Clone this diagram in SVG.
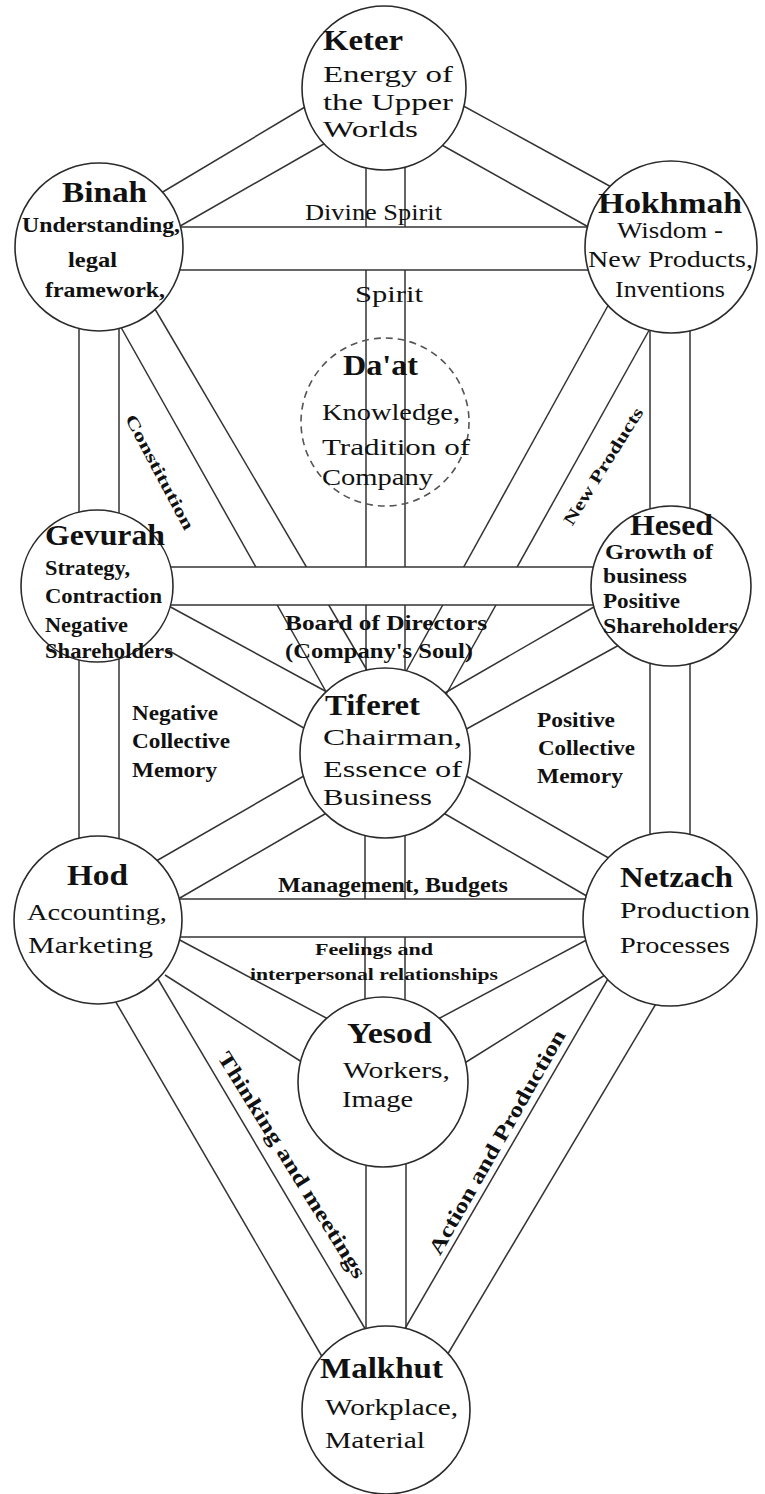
<svg xmlns="http://www.w3.org/2000/svg" width="765" height="1494" viewBox="0 0 765 1494">
<style>
.ln line{stroke:#333;stroke-width:1.5;fill:none}
.chl{stroke:#444;stroke-width:2.2}
.node{fill:#fff;stroke:#2b2b2b;stroke-width:1.6}
.dash{fill:none;stroke:#555;stroke-width:1.6;stroke-dasharray:7 5}
text{font-family:"Liberation Serif","Times New Roman",serif;fill:#111}
.t{font-weight:bold;font-size:30px}
.b{font-size:24px}
.bb{font-size:21px;font-weight:bold}
.s{font-size:17px;font-weight:bold}
.r{font-size:21px;font-weight:bold}
</style>
<rect width="765" height="1494" fill="#fff"/>
<g id="connectors" class="ln">
  <line x1="366" y1="160" x2="366" y2="680"/>
  <line x1="405" y1="160" x2="405" y2="680"/>
  <line x1="365" y1="830" x2="365" y2="1010"/>
  <line x1="405" y1="830" x2="405" y2="1010"/>
  <line x1="366" y1="1160" x2="366" y2="1335"/>
  <line x1="406" y1="1160" x2="406" y2="1335"/>
  <line x1="79" y1="320" x2="79" y2="850"/>
  <line x1="119" y1="320" x2="119" y2="850"/>
  <line x1="650" y1="320" x2="650" y2="850"/>
  <line x1="690" y1="320" x2="690" y2="850"/>
  <line x1="156" y1="196" x2="310" y2="104"/>
  <line x1="175" y1="229" x2="329" y2="141"/>
  <line x1="458" y1="103" x2="615" y2="189"/>
  <line x1="440" y1="144" x2="592" y2="229"/>
  <line x1="118" y1="322" x2="329" y2="697"/>
  <line x1="152" y1="304" x2="371" y2="677"/>
  <line x1="652" y1="325" x2="443" y2="700"/>
  <line x1="610" y1="302" x2="403" y2="677"/>
  <line x1="165" y1="604" x2="327" y2="692"/>
  <line x1="166" y1="649" x2="309" y2="731"/>
  <line x1="599" y1="604" x2="443" y2="694"/>
  <line x1="621" y1="644" x2="461" y2="732"/>
  <line x1="151" y1="864" x2="309" y2="773"/>
  <line x1="173" y1="902" x2="330" y2="811"/>
  <line x1="619" y1="864" x2="461" y2="773"/>
  <line x1="597" y1="902" x2="440" y2="811"/>
  <line x1="176" y1="938" x2="330" y2="1020"/>
  <line x1="165" y1="975" x2="305" y2="1064"/>
  <line x1="594" y1="936" x2="438" y2="1019"/>
  <line x1="605" y1="975" x2="463" y2="1064"/>
  <line x1="110" y1="992" x2="324" y2="1360"/>
  <line x1="155" y1="974" x2="367" y2="1332"/>
  <line x1="660" y1="997" x2="446" y2="1357"/>
  <line x1="612" y1="972" x2="403" y2="1332"/>
  <rect x="99" y="227" width="572" height="43" fill="#fff" stroke="none"/>
  <line class="chl" x1="99" y1="227" x2="671" y2="227"/>
  <line class="chl" x1="99" y1="270" x2="671" y2="270"/>
  <rect x="97" y="567" width="574" height="38" fill="#fff" stroke="none"/>
  <line class="chl" x1="97" y1="567" x2="671" y2="567"/>
  <line class="chl" x1="97" y1="605" x2="671" y2="605"/>
  <rect x="98" y="899" width="572" height="38" fill="#fff" stroke="none"/>
  <line class="chl" x1="98" y1="899" x2="670" y2="899"/>
  <line class="chl" x1="98" y1="937" x2="670" y2="937"/>
</g>
<g id="path-labels">
  <text class="b" x="305" y="220" textLength="137" lengthAdjust="spacingAndGlyphs">Divine Spirit</text>
  <text class="b" x="355" y="302" textLength="68" lengthAdjust="spacingAndGlyphs">Spirit</text>
  <text class="s" font-size="18" text-anchor="middle" transform="translate(160,472) rotate(62)" y="6" textLength="128" lengthAdjust="spacingAndGlyphs">Constitution</text>
  <text class="s" font-size="18" text-anchor="middle" transform="translate(603,466) rotate(-58)" y="6" textLength="135" lengthAdjust="spacingAndGlyphs">New Products</text>
  <text class="bb" x="285" y="630" textLength="202" lengthAdjust="spacingAndGlyphs">Board of Directors</text>
  <text class="bb" x="285" y="658" textLength="188" lengthAdjust="spacingAndGlyphs">(Company's Soul)</text>
  <text class="bb" x="132" y="720" textLength="86" lengthAdjust="spacingAndGlyphs">Negative</text>
  <text class="bb" x="132" y="748" textLength="98" lengthAdjust="spacingAndGlyphs">Collective</text>
  <text class="bb" x="132" y="777" textLength="85" lengthAdjust="spacingAndGlyphs">Memory</text>
  <text class="bb" x="537" y="727" textLength="78" lengthAdjust="spacingAndGlyphs">Positive</text>
  <text class="bb" x="538" y="755" textLength="97" lengthAdjust="spacingAndGlyphs">Collective</text>
  <text class="bb" x="537" y="783" textLength="86" lengthAdjust="spacingAndGlyphs">Memory</text>
  <text class="bb" x="278" y="892" textLength="230" lengthAdjust="spacingAndGlyphs">Management, Budgets</text>
  <text class="s" x="315" y="955" textLength="118" lengthAdjust="spacingAndGlyphs">Feelings and</text>
  <text class="s" x="250" y="980" textLength="248" lengthAdjust="spacingAndGlyphs">interpersonal relationships</text>
  <text class="r" text-anchor="middle" transform="translate(292,1165) rotate(58.2)" y="7" textLength="262" lengthAdjust="spacingAndGlyphs">Thinking and meetings</text>
  <text class="r" text-anchor="middle" transform="translate(497,1142) rotate(-60.3)" y="7" textLength="255" lengthAdjust="spacingAndGlyphs">Action and Production</text>
</g>
<g id="keter">
  <circle class="node" cx="384" cy="88" r="82"/>
  <text class="t" x="323" y="50" textLength="80" lengthAdjust="spacingAndGlyphs">Keter</text>
  <text class="b" x="323" y="82" textLength="130" lengthAdjust="spacingAndGlyphs">Energy of</text>
  <text class="b" x="323" y="110" textLength="130" lengthAdjust="spacingAndGlyphs">the Upper</text>
  <text class="b" x="323" y="137" textLength="95" lengthAdjust="spacingAndGlyphs">Worlds</text>
</g>
<g id="binah">
  <circle class="node" cx="99" cy="247" r="84"/>
  <text class="t" x="62" y="202" textLength="85" lengthAdjust="spacingAndGlyphs">Binah</text>
  <text class="bb" x="22" y="232" textLength="158" lengthAdjust="spacingAndGlyphs">Understanding,</text>
  <text class="bb" x="68" y="267" textLength="49" lengthAdjust="spacingAndGlyphs">legal</text>
  <text class="bb" x="45" y="297" textLength="120" lengthAdjust="spacingAndGlyphs">framework,</text>
</g>
<g id="hokhmah">
  <circle class="node" cx="671" cy="247" r="86"/>
  <text class="t" x="598" y="213" textLength="144" lengthAdjust="spacingAndGlyphs">Hokhmah</text>
  <text class="b" x="617" y="238" textLength="106" lengthAdjust="spacingAndGlyphs">Wisdom -</text>
  <text class="b" x="588" y="267" textLength="165" lengthAdjust="spacingAndGlyphs">New Products,</text>
  <text class="b" x="615" y="297" textLength="110" lengthAdjust="spacingAndGlyphs">Inventions</text>
</g>
<g id="daat">
  <circle class="dash" cx="385" cy="422" r="84"/>
  <text class="t" font-size="28" x="343" y="375" textLength="75" lengthAdjust="spacingAndGlyphs">Da'at</text>
  <text class="b" x="322" y="420" textLength="138" lengthAdjust="spacingAndGlyphs">Knowledge,</text>
  <text class="b" x="322" y="455" textLength="148" lengthAdjust="spacingAndGlyphs">Tradition  of</text>
  <text class="b" x="322" y="485" textLength="111" lengthAdjust="spacingAndGlyphs">Company</text>
</g>
<g id="gevurah">
  <circle class="node" cx="97" cy="586" r="76"/>
  <text class="t" x="45" y="545" textLength="120" lengthAdjust="spacingAndGlyphs">Gevurah</text>
  <text class="bb" x="45" y="575" textLength="85" lengthAdjust="spacingAndGlyphs">Strategy,</text>
  <text class="bb" x="45" y="603" textLength="117" lengthAdjust="spacingAndGlyphs">Contraction</text>
  <text class="bb" x="45" y="632" textLength="83" lengthAdjust="spacingAndGlyphs">Negative</text>
  <text class="bb" x="45" y="658" textLength="128" lengthAdjust="spacingAndGlyphs">Shareholders</text>
</g>
<g id="hesed">
  <circle class="node" cx="671" cy="586" r="80"/>
  <text class="t" font-size="27" x="630" y="535" textLength="83" lengthAdjust="spacingAndGlyphs">Hesed</text>
  <text class="bb" font-size="19" x="605" y="559" textLength="108" lengthAdjust="spacingAndGlyphs">Growth  of</text>
  <text class="bb" x="603" y="583" textLength="84" lengthAdjust="spacingAndGlyphs">business</text>
  <text class="bb" x="603" y="608" textLength="77" lengthAdjust="spacingAndGlyphs">Positive</text>
  <text class="bb" x="603" y="633" textLength="135" lengthAdjust="spacingAndGlyphs">Shareholders</text>
</g>
<g id="tiferet">
  <circle class="node" cx="385" cy="753" r="85"/>
  <text class="t" x="325" y="715" textLength="95" lengthAdjust="spacingAndGlyphs">Tiferet</text>
  <text class="b" x="323" y="745" textLength="139" lengthAdjust="spacingAndGlyphs">Chairman,</text>
  <text class="b" x="323" y="777" textLength="139" lengthAdjust="spacingAndGlyphs">Essence of</text>
  <text class="b" x="323" y="805" textLength="109" lengthAdjust="spacingAndGlyphs">Business</text>
</g>
<g id="hod">
  <circle class="node" cx="98" cy="920" r="84"/>
  <text class="t" x="67" y="885" textLength="61" lengthAdjust="spacingAndGlyphs">Hod</text>
  <text class="b" x="27" y="920" textLength="140" lengthAdjust="spacingAndGlyphs">Accounting,</text>
  <text class="b" x="28" y="953" textLength="125" lengthAdjust="spacingAndGlyphs">Marketing</text>
</g>
<g id="netzach">
  <circle class="node" cx="670" cy="919" r="87"/>
  <text class="t" x="620" y="887" textLength="113" lengthAdjust="spacingAndGlyphs">Netzach</text>
  <text class="b" x="620" y="918" textLength="130" lengthAdjust="spacingAndGlyphs">Production</text>
  <text class="b" x="620" y="953" textLength="110" lengthAdjust="spacingAndGlyphs">Processes</text>
</g>
<g id="yesod">
  <circle class="node" cx="383" cy="1082" r="85"/>
  <text class="t" x="347" y="1043" textLength="85" lengthAdjust="spacingAndGlyphs">Yesod</text>
  <text class="b" x="343" y="1078" textLength="107" lengthAdjust="spacingAndGlyphs">Workers,</text>
  <text class="b" x="342" y="1107" textLength="71" lengthAdjust="spacingAndGlyphs">Image</text>
</g>
<g id="malkhut">
  <circle class="node" cx="386" cy="1410" r="84"/>
  <text class="t" x="320" y="1378" textLength="123" lengthAdjust="spacingAndGlyphs">Malkhut</text>
  <text class="b" x="325" y="1415" textLength="133" lengthAdjust="spacingAndGlyphs">Workplace,</text>
  <text class="b" x="325" y="1448" textLength="100" lengthAdjust="spacingAndGlyphs">Material</text>
</g>
</svg>
